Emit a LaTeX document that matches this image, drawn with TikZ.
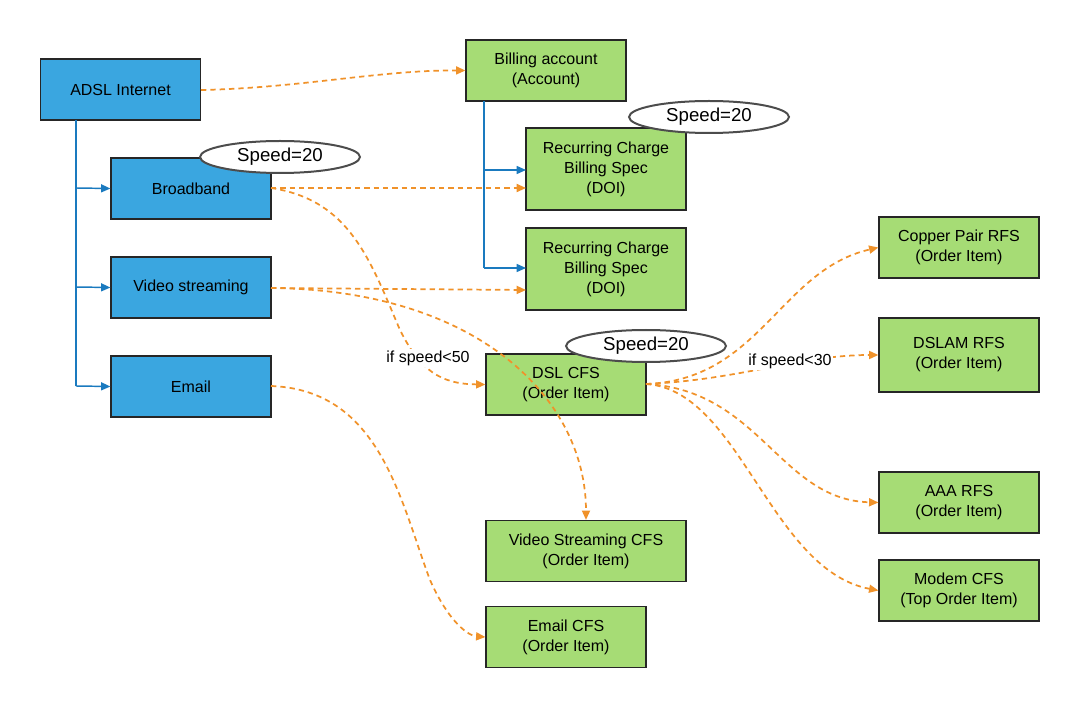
\documentclass[tikz,border=0pt]{standalone}
\usepackage{fontspec}
\setmainfont{Liberation Sans}
\usetikzlibrary{arrows.meta,shapes.geometric}
\definecolor{bl}{HTML}{3AA6E0}
\definecolor{gr}{HTML}{A6DC75}
\definecolor{og}{HTML}{F0922A}
\definecolor{lb}{HTML}{1A7ABF}
\begin{document}
\begin{tikzpicture}[x=0.75pt,y=-0.75pt,
 box/.style={draw=black!85,line width=0.9pt,align=center,font=\fontsize{12}{15}\selectfont,inner sep=0pt},
 bb/.style={box,fill=bl,minimum width=120pt,minimum height=45.75pt},
 gb/.style={box,fill=gr,minimum width=120pt,minimum height=45.75pt},
 sp/.style={ellipse,draw=black!70,line width=1.5pt,fill=white,minimum width=120pt,minimum height=24pt,inner sep=0pt,font=\fontsize{14}{16}\selectfont},
 tr/.style={lb,line width=1.1pt,-{Triangle[length=7pt,width=6pt]}},
 od/.style={og,line width=1.3pt,dash pattern=on 4pt off 3pt,-{Triangle[length=7pt,width=6pt]}},
 lab/.style={fill=white,inner sep=1pt,font=\fontsize{12}{14}\selectfont}]
\useasboundingbox (0,0) rectangle (1079,709);
\node[bb] (adsl) at (120.5,89.5) {ADSL Internet};
\node[bb] (bro) at (191,188.5) {Broadband};
\node[bb] (vid) at (191,287.5) {Video streaming};
\node[bb] (em) at (191,386.5) {Email};
\node[gb] (bill) at (546,70.5) {Billing account\\(Account)};
\node[gb,minimum height=61.5pt] (r1) at (606,169) {Recurring Charge\\Billing Spec\\(DOI)};
\node[gb,minimum height=61.5pt] (r2) at (606,269) {Recurring Charge\\Billing Spec\\(DOI)};
\node[gb] (dsl) at (566,384.5) {DSL CFS\\(Order Item)};
\node[gb,minimum width=150pt] (vcfs) at (586,551) {Video Streaming CFS\\(Order Item)};
\node[gb] (ecfs) at (566,637) {Email CFS\\(Order Item)};
\node[gb] (cop) at (959,247.5) {Copper Pair RFS\\(Order Item)};
\node[gb,minimum height=55.5pt] (dslam) at (959,355) {DSLAM RFS\\(Order Item)};
\node[gb] (aaa) at (959,502.5) {AAA RFS\\(Order Item)};
\node[gb] (mod) at (959,590.5) {Modem CFS\\(Top Order Item)};
\coordinate (t1) at (76,120);
\draw[lb,line width=1.1pt] (t1) -- (76,386);
\draw[tr] (76,188) -- (bro.west);
\draw[tr] (76,287) -- (vid.west);
\draw[tr] (76,386) -- (em.west);
\draw[lb,line width=1.1pt] (484,101) -- (484,268);
\draw[tr] (484,170) -- (526,170);
\draw[tr] (484,268) -- (526,268);
\draw[od] (201,90) .. controls (300,88) and (380,70) .. (bill.west);
\draw[od] (271,188) -- (526,188);
\draw[od] (271,188) .. controls (350,200) and (370,260) .. (400,330) .. controls (420,370) and (440,384) .. (dsl.west);
\node[lab] at (428,358) {if speed<50};
\draw[od] (271,288) -- (526,290);
\draw[od] (271,288) .. controls (480,290) and (586,400) .. (vcfs.north);
\draw[od] (271,386) .. controls (380,390) and (400,500) .. (430,580) .. controls (450,625) and (470,636) .. (ecfs.west);
\draw[od] (646,384) .. controls (760,380) and (780,270) .. (cop.west);
\draw[od] (646,384) .. controls (740,380) and (800,355) .. (dslam.west);
\node[lab] at (790,361) {if speed<30};
\draw[od] (646,384) .. controls (760,390) and (780,500) .. (aaa.west);
\draw[od] (646,384) .. controls (740,390) and (770,570) .. (mod.west);
\node[sp] (s1) at (280,157) {Speed=20};
\node[sp] (s2) at (709,117) {Speed=20};
\node[sp] (s3) at (646,346) {Speed=20};
\end{tikzpicture}
\end{document}
